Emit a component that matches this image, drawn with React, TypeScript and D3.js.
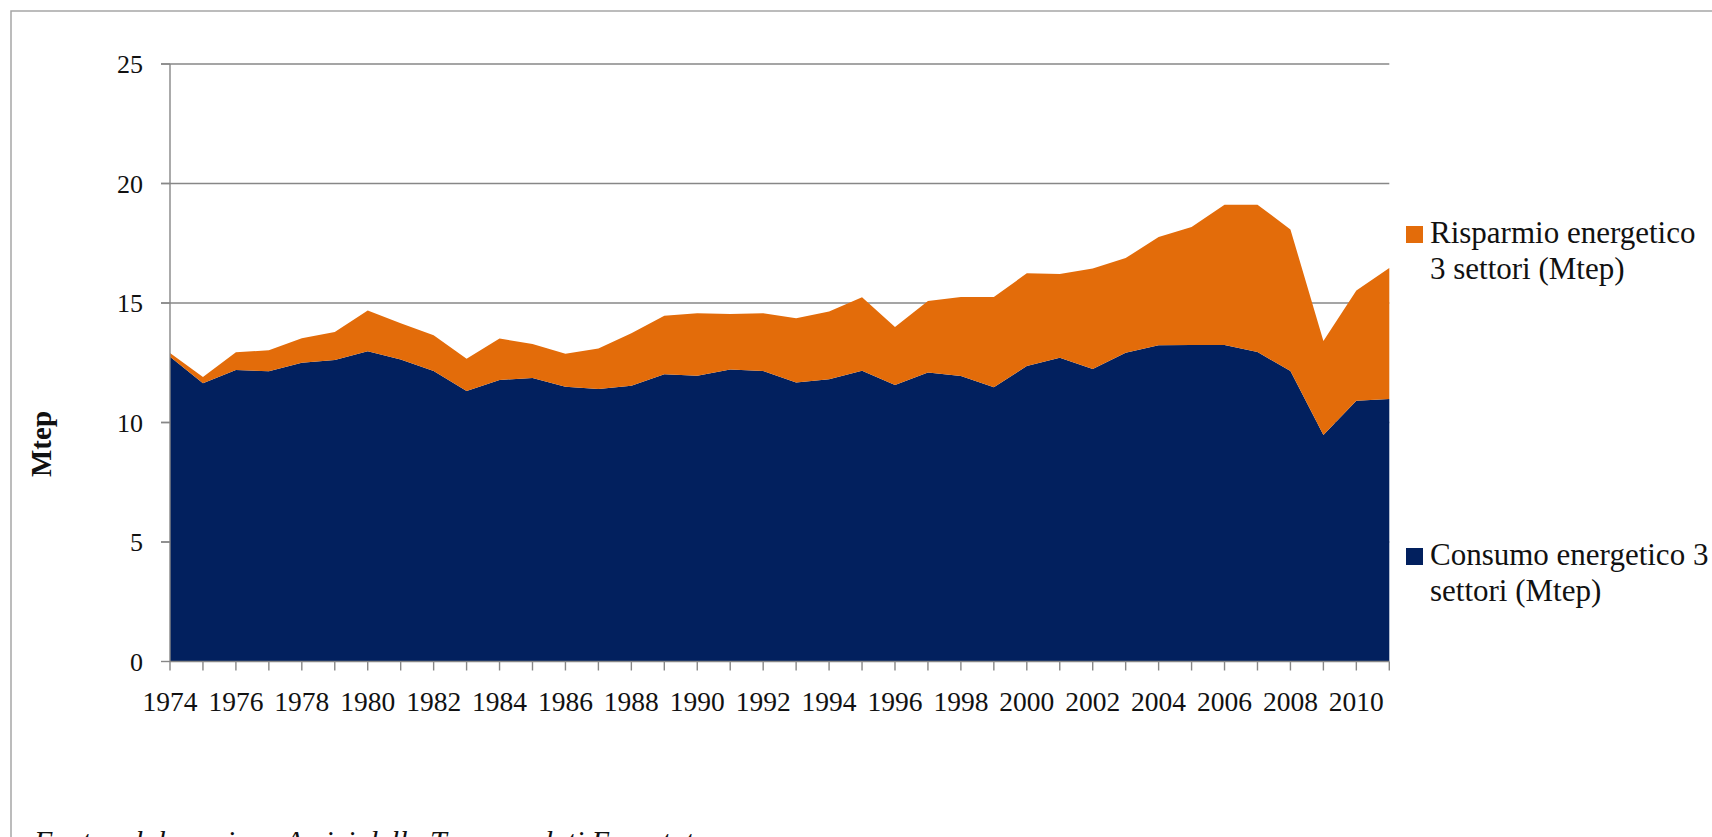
import React from "react";
import * as d3 from "d3";

// Years on the category axis
const years: number[] = d3.range(1974, 2012);

// Consumo energetico 3 settori (Mtep)
const consumo: number[] = [
  12.75, 11.64, 12.2, 12.14, 12.5, 12.61, 12.98, 12.64, 12.15, 11.32,
  11.78, 11.86, 11.5, 11.4, 11.54, 12.02, 11.96, 12.22, 12.15, 11.67,
  11.81, 12.17, 11.57, 12.09, 11.95, 11.47, 12.36, 12.71, 12.24, 12.92,
  13.23, 13.24, 13.24, 12.95, 12.15, 9.48, 10.91, 10.98,
];

// Risparmio energetico 3 settori (Mtep)
const risparmio: number[] = [
  0.16, 0.26, 0.74, 0.88, 1.02, 1.18, 1.71, 1.51, 1.5, 1.35,
  1.73, 1.42, 1.38, 1.7, 2.19, 2.45, 2.61, 2.32, 2.42, 2.69,
  2.83, 3.07, 2.43, 2.99, 3.3, 3.78, 3.88, 3.5, 4.2, 3.96,
  4.53, 4.94, 5.87, 6.16, 5.93, 3.93, 4.61, 5.48,
];

const yTicks: number[] = [0, 5, 10, 15, 20, 25];
const xLabelYears: number[] = years.filter((y) => (y - 1974) % 2 === 0);

const seriesKeys = ["consumo", "risparmio"] as const;
const seriesColors: Record<string, string> = {
  consumo: "#02205E",
  risparmio: "#E36C0A",
};
const legendItems = [
  { key: "risparmio", lines: ["Risparmio energetico", "3 settori (Mtep)"] },
  { key: "consumo", lines: ["Consumo energetico 3", "settori (Mtep)"] },
];

const FONT = "'Liberation Serif', 'Times New Roman', serif";

export default function App() {
  const W = 1712;
  const H = 837;
  const left = 170;
  const right = 1389.3;
  const top = 64;
  const bottom = 661.5;

  const x = d3.scalePoint<number>().domain(years).range([left, right]);
  const y = d3.scaleLinear().domain([0, 25]).range([bottom, top]);

  const rows = years.map((yr, i) => ({
    year: yr,
    consumo: consumo[i],
    risparmio: risparmio[i],
  }));
  const stacked = d3.stack<any>().keys(seriesKeys as unknown as string[])(rows);

  const area = d3
    .area<any>()
    .x((d) => x(d.data.year) as number)
    .y0((d) => y(d[0]))
    .y1((d) => y(d[1]));

  const grid = "#878787";

  return (
    <div style={{ position: "fixed", left: 0, top: 0, width: W, height: H, background: "#fff" }}>
      <svg width={W} height={H} style={{ display: "block" }} fontFamily={FONT}>
        <rect x={0} y={0} width={W} height={H} fill="#fff" />
        {/* outer chart frame */}
        <rect x={11} y={11} width={W + 20} height={H + 20} fill="none" stroke="#a6a6a6" strokeWidth={1.5} />

        {/* horizontal gridlines */}
        {yTicks
          .filter((t) => t > 0)
          .map((t) => (
            <line key={"g" + t} x1={left - 9} x2={right} y1={y(t)} y2={y(t)} stroke={grid} strokeWidth={1.4} />
          ))}

        {/* stacked areas */}
        {stacked.map((s) => (
          <path key={s.key} d={area(s) || ""} fill={seriesColors[s.key]} />
        ))}

        {/* y axis */}
        <line x1={left} x2={left} y1={top} y2={bottom} stroke={grid} strokeWidth={1.4} />
        {yTicks.map((t) => (
          <g key={"yt" + t}>
            <line x1={left - 9} x2={left} y1={y(t)} y2={y(t)} stroke={grid} strokeWidth={1.4} />
            <text x={143} y={y(t)} dy="0.35em" textAnchor="end" fontSize={26} fill="#111">
              {t}
            </text>
          </g>
        ))}

        {/* x axis */}
        <line x1={left} x2={right} y1={bottom} y2={bottom} stroke={grid} strokeWidth={1.4} />
        {years.map((yr) => (
          <line
            key={"xt" + yr}
            x1={x(yr)}
            x2={x(yr)}
            y1={bottom}
            y2={bottom + 9}
            stroke={grid}
            strokeWidth={1.4}
          />
        ))}
        {xLabelYears.map((yr) => (
          <text key={"xl" + yr} x={x(yr)} y={711} textAnchor="middle" fontSize={27.5} fill="#111">
            {yr}
          </text>
        ))}

        {/* axis title */}
        <text
          transform="translate(41,444) rotate(-90)"
          textAnchor="middle"
          dy="0.35em"
          fontSize={29}
          fontWeight="bold"
          fill="#111"
        >
          Mtep
        </text>

        {/* legend */}
        {legendItems.map((item, i) => {
          const baseY = i === 0 ? 243 : 565;
          return (
            <g key={item.key}>
              <rect x={1406} y={baseY - 17} width={17} height={17} fill={seriesColors[item.key]} />
              {item.lines.map((ln, j) => (
                <text key={j} x={1430} y={baseY + j * 35.5} fontSize={31} fill="#111">
                  {ln}
                </text>
              ))}
            </g>
          );
        })}

        {/* source note */}
        <text x={34} y={851} fontSize={30} fontStyle="italic" fill="#111">
          Fonte: elaborazione Amici della Terra su dati Eurostat
        </text>
      </svg>
    </div>
  );
}
